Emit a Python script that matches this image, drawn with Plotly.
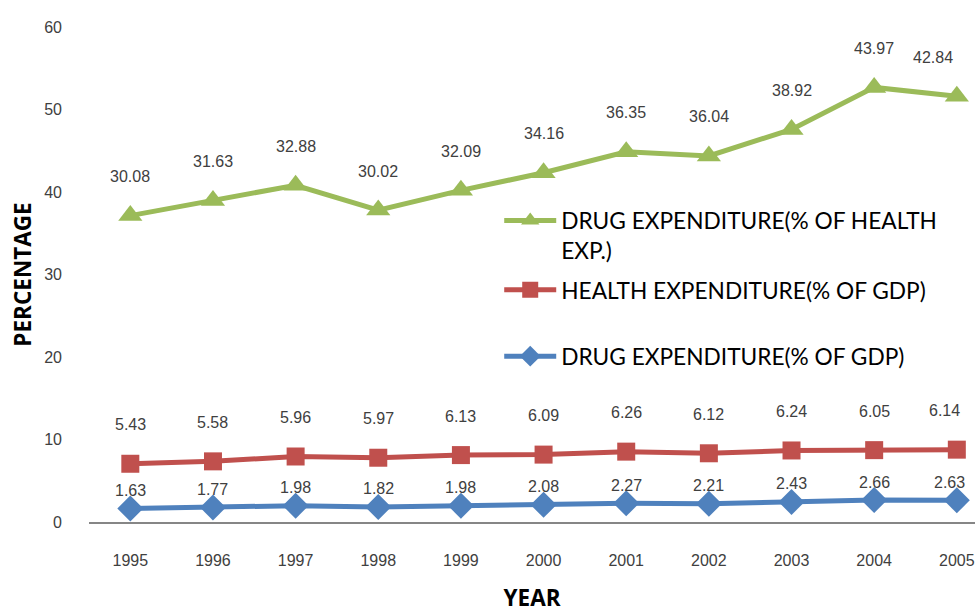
import numpy as np
import plotly.graph_objects as go

# Years on the category axis
years = ["1995", "1996", "1997", "1998", "1999", "2000",
         "2001", "2002", "2003", "2004", "2005"]

# Series values (stacked line chart: each series sits on top of the previous)
drug_gdp = [1.63, 1.77, 1.98, 1.82, 1.98, 2.08, 2.27, 2.21, 2.43, 2.66, 2.63]
health_gdp = [5.43, 5.58, 5.96, 5.97, 6.13, 6.09, 6.26, 6.12, 6.24, 6.05, 6.14]
drug_health = [30.08, 31.63, 32.88, 30.02, 32.09, 34.16, 36.35, 36.04, 38.92, 43.97, 42.84]

y_ticks = [0, 10, 20, 30, 40, 50, 60]

BLUE = "#4F81BD"
RED = "#C0504D"
GREEN = "#9BBB59"
LABEL_COLOR = "#404040"
FONT = "Liberation Sans, Arial, sans-serif"
LEGEND_FONT = "Lato, Carlito, Calibri, sans-serif"
TITLE_FONT = "Open Sans, sans-serif"

series = [
    dict(name="DRUG EXPENDITURE(% OF GDP)", values=drug_gdp, color=BLUE,
         symbol="diamond", size=20, legend="legend3", shift=18, edge_shift=10),
    dict(name="HEALTH EXPENDITURE(% OF GDP)", values=health_gdp, color=RED,
         symbol="square", size=18, legend="legend2", shift=39, edge_shift=5),
    dict(name="DRUG EXPENDITURE(% OF HEALTH<br>EXP.)", values=drug_health, color=GREEN,
         symbol="triangle-up", size=21, legend="legend", shift=39, edge_shift=-2),
]

fig = go.Figure()

running = np.zeros(len(years))
annotations = []
last = len(years) - 1
for s in series:
    fig.add_trace(go.Scatter(
        x=years, y=s["values"], name=s["name"],
        stackgroup="one", fill="none",
        mode="lines+markers",
        line=dict(color=s["color"], width=5),
        marker=dict(symbol=s["symbol"], size=s["size"], color=s["color"]),
        legend=s["legend"],
        hoverinfo="skip",
    ))
    running = running + np.array(s["values"])
    for i, (top, val) in enumerate(zip(running, s["values"])):
        # keep the final label inside the chart's right edge
        at_edge = i == last
        annotations.append(dict(
            x=i, y=float(top), xref="x", yref="y", text=f"{val:.2f}",
            showarrow=False,
            xanchor="right" if at_edge else "center",
            xshift=s["edge_shift"] if at_edge else 0,
            yanchor="middle", yshift=s["shift"],
            font=dict(family=FONT, size=16, color=LABEL_COLOR),
        ))

legend_common = dict(
    x=0.463, xanchor="left", yanchor="top", valign="top",
    font=dict(family=LEGEND_FONT, size=22.7, color="black"),
    bgcolor="rgba(0,0,0,0)", itemwidth=52,
)

fig.update_layout(
    width=975, height=613,
    margin=dict(l=89, r=0, t=27, b=91),
    paper_bgcolor="white", plot_bgcolor="white",
    showlegend=True,
    annotations=annotations,
    legend=dict(y=0.652, **legend_common),
    legend2=dict(y=0.512, **legend_common),
    legend3=dict(y=0.378, **legend_common),
    xaxis=dict(
        type="category", range=[-0.5, 10.22],
        showline=True, linecolor="#868686", linewidth=2,
        showgrid=False, zeroline=False, ticks="",
        ticklabelstandoff=23,
        tickfont=dict(family=FONT, size=16, color=LABEL_COLOR),
        title=dict(text="<b>YEAR</b>", standoff=27,
                   font=dict(family=TITLE_FONT, size=22.5, color="black")),
    ),
    yaxis=dict(
        range=[0, 60], tickvals=y_ticks,
        showline=False, showgrid=False, zeroline=False, ticks="",
        ticklabelstandoff=26,
        tickfont=dict(family=FONT, size=16, color=LABEL_COLOR),
        title=dict(text="<b>PERCENTAGE</b>", standoff=6,
                   font=dict(family=TITLE_FONT, size=22.5, color="black")),
    ),
)

fig.write_html("out.html")
